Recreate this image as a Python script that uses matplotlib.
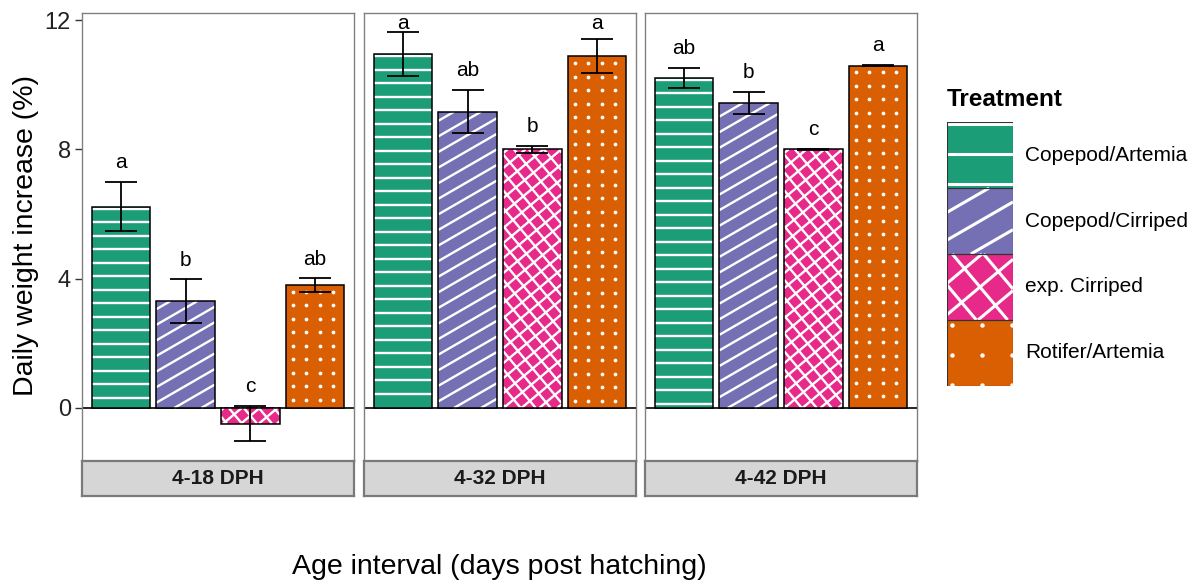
import numpy as np
import matplotlib
matplotlib.use("Agg")
import matplotlib.pyplot as plt
from matplotlib.collections import LineCollection
from matplotlib.patches import Rectangle
from matplotlib.transforms import IdentityTransform

plt.rcParams['font.family'] = ['Liberation Sans', 'DejaVu Sans']

treatments = ['Copepod/Artemia', 'Copepod/Cirriped', 'exp. Cirriped', 'Rotifer/Artemia']
colors = ['#1B9E77', '#7570B3', '#E7298A', '#D95F02']
patterns = ['hline', 'stripe', 'cross', 'dots']

intervals = ['4-18 DPH', '4-32 DPH', '4-42 DPH']
means_4_18 = [6.23, 3.30, -0.48, 3.80]
se_4_18 = [0.76, 0.68, 0.54, 0.21]
letters_4_18 = ['a', 'b', 'c', 'ab']
means_4_32 = [10.95, 9.17, 8.00, 10.88]
se_4_32 = [0.68, 0.67, 0.10, 0.53]
letters_4_32 = ['a', 'ab', 'b', 'a']
means_4_42 = [10.22, 9.43, 8.00, 10.59]
se_4_42 = [0.31, 0.34, 0.02, 0.02]
letters_4_42 = ['ab', 'b', 'c', 'a']

panels = [(means_4_18, se_4_18, letters_4_18),
          (means_4_32, se_4_32, letters_4_32),
          (means_4_42, se_4_42, letters_4_42)]

W, H = 1200, 583


def clip_seg(p0, p1, x0, y0, x1, y1):
    # Liang-Barsky clipping of a segment to a box
    dx, dy = p1[0] - p0[0], p1[1] - p0[1]
    t0, t1 = 0.0, 1.0
    for p, q in ((-dx, p0[0] - x0), (dx, x1 - p0[0]), (-dy, p0[1] - y0), (dy, y1 - p0[1])):
        if p == 0:
            if q < 0:
                return None
            continue
        t = q / p
        if p < 0:
            t0 = max(t0, t)
        else:
            t1 = min(t1, t)
        if t0 > t1:
            return None
    return [[p0[0] + t0 * dx, p0[1] + t0 * dy], [p0[0] + t1 * dx, p0[1] + t1 * dy]]


def line_set(x0, y0, x1, y1, ang, step):
    a = np.radians(ang)
    d = np.array([np.cos(a), np.sin(a)])
    n = np.array([-np.sin(a), np.cos(a)])
    c = np.array([(x0 + x1) / 2, (y0 + y1) / 2])
    corners = np.array([[x0, y0], [x0, y1], [x1, y0], [x1, y1]]) - c
    proj = corners @ n
    L = np.hypot(x1 - x0, y1 - y0)
    segs = []
    for o in np.arange(np.floor(proj.min() / step) * step, proj.max() + step, step):
        p = c + o * n
        s = clip_seg(p - L * d, p + L * d, x0, y0, x1, y1)
        if s is not None:
            segs.append(s)
    return segs


def fill_pattern(ax, patch, kind, step, lw, dot_off=0.5):
    bb = patch.get_window_extent()
    x0, y0, x1, y1 = bb.x0, bb.y0, bb.x1, bb.y1
    if kind == 'dots':
        xs = np.arange(x0 + step * dot_off, x1 - 1, step)
        ys = np.arange(y1 - step * dot_off, y0 + 1, -step)
        gx, gy = np.meshgrid(xs, ys)
        ax.plot(gx.ravel(), gy.ravel(), 'o', ms=lw, color='white', mec='none',
                transform=IdentityTransform(), scalex=False, scaley=False, zorder=2.5)
        return
    if kind == 'hline':
        segs = [[[x0, yy], [x1, yy]] for yy in np.arange(y1 - 2, y0 + 1, -step)]
    elif kind == 'stripe':
        segs = line_set(x0, y0, x1, y1, 30, step)
    else:
        segs = line_set(x0, y0, x1, y1, 40, step) + line_set(x0, y0, x1, y1, 130, step)
    lc = LineCollection(segs, colors='white', linewidths=lw,
                        transform=IdentityTransform(), zorder=2.5)
    ax.add_collection(lc, autolim=False)


fig = plt.figure(figsize=(W / 100, H / 100), dpi=100)

panel_x = [82, 364, 645]
panel_w = 272
top_px, bot_px, strip_px = 13, 461, 496
ylim = (-1.64, 12.22)
x = np.arange(len(treatments))
bar_steps = {'hline': 13.5, 'stripe': 13.5, 'cross': 11.5, 'dots': 13.5}

for i, (means, ses, letters) in enumerate(panels):
    ax = fig.add_axes([panel_x[i] / W, (H - bot_px) / H, panel_w / W, (bot_px - top_px) / H])
    ax.set_xlim(-0.6, 3.6)
    ax.set_ylim(*ylim)
    ax.axhline(0, color='black', lw=1.2, zorder=1)
    bars = ax.bar(x, means, width=0.9, color=colors, edgecolor='none', zorder=2)
    ax.bar(x, means, width=0.9, color='none', edgecolor='black', lw=1.1, zorder=3)
    for b, kind in zip(bars, patterns):
        fill_pattern(ax, b, kind, bar_steps[kind], 2.7 if kind == 'dots' else 1.7)
    ax.errorbar(x, means, yerr=ses, fmt='none', ecolor='black', elinewidth=1.3,
                capsize=11.5, capthick=1.3, zorder=4)
    for xi, m, s, lab in zip(x, means, ses, letters):
        ax.text(xi, min(m + s + 0.3, 11.6), lab, ha='center', va='bottom',
                fontsize=15, clip_on=False, zorder=5)
    for sp in ax.spines.values():
        sp.set_color('#808080')
        sp.set_linewidth(1.0)
    ax.set_xticks([])
    if i == 0:
        ax.set_yticks([0, 4, 8, 12])
        ax.tick_params(axis='y', length=5, width=1, color='#333333',
                       labelsize=17, labelcolor='#222222', pad=3)
    else:
        ax.set_yticks([])

    sax = fig.add_axes([panel_x[i] / W, (H - strip_px) / H, panel_w / W, (strip_px - bot_px) / H])
    sax.set_facecolor('#D6D6D6')
    sax.set_xticks([])
    sax.set_yticks([])
    for sp in sax.spines.values():
        sp.set_color('#7a7a7a')
        sp.set_linewidth(1.6)
    sax.text(0.5, 0.5, intervals[i], ha='center', va='center', fontsize=15,
             fontweight='bold', color='#1a1a1a', transform=sax.transAxes)

fig.text(26 / W, 1 - 236 / H, 'Daily weight increase (%)', rotation=90,
         ha='center', va='center', fontsize=20.5)
fig.text(499 / W, 1 - 567 / H, 'Age interval (days post hatching)',
         ha='center', va='center', fontsize=20.5)

# legend
lax = fig.add_axes([947 / W, (H - 386) / H, 66 / W, 264 / H])
lax.set_xlim(0, 1)
lax.set_ylim(0, 4)
lax.axis('off')
lsteps = {'hline': 30, 'stripe': 24, 'cross': 24, 'dots': 30}
for k, (lab, col, kind) in enumerate(zip(treatments, colors, patterns)):
    yb = 3 - k
    r = Rectangle((0, yb), 1, 1, facecolor=col, edgecolor='none', zorder=2)
    lax.add_patch(r)
    lax.add_patch(Rectangle((0, yb), 1, 1, facecolor='none', edgecolor='#333333',
                            lw=0.8, zorder=3))
    fill_pattern(lax, r, kind, lsteps[kind], 3.2 if kind == 'dots' else 2.2, dot_off=0.15)
    fig.text(1025 / W, 1 - (155 + 66 * k) / H, lab, ha='left', va='center', fontsize=15)
fig.text(947 / W, 1 - 99 / H, 'Treatment', ha='left', va='center', fontsize=17.5,
         fontweight='bold')

fig.savefig('out.png', dpi=100)
